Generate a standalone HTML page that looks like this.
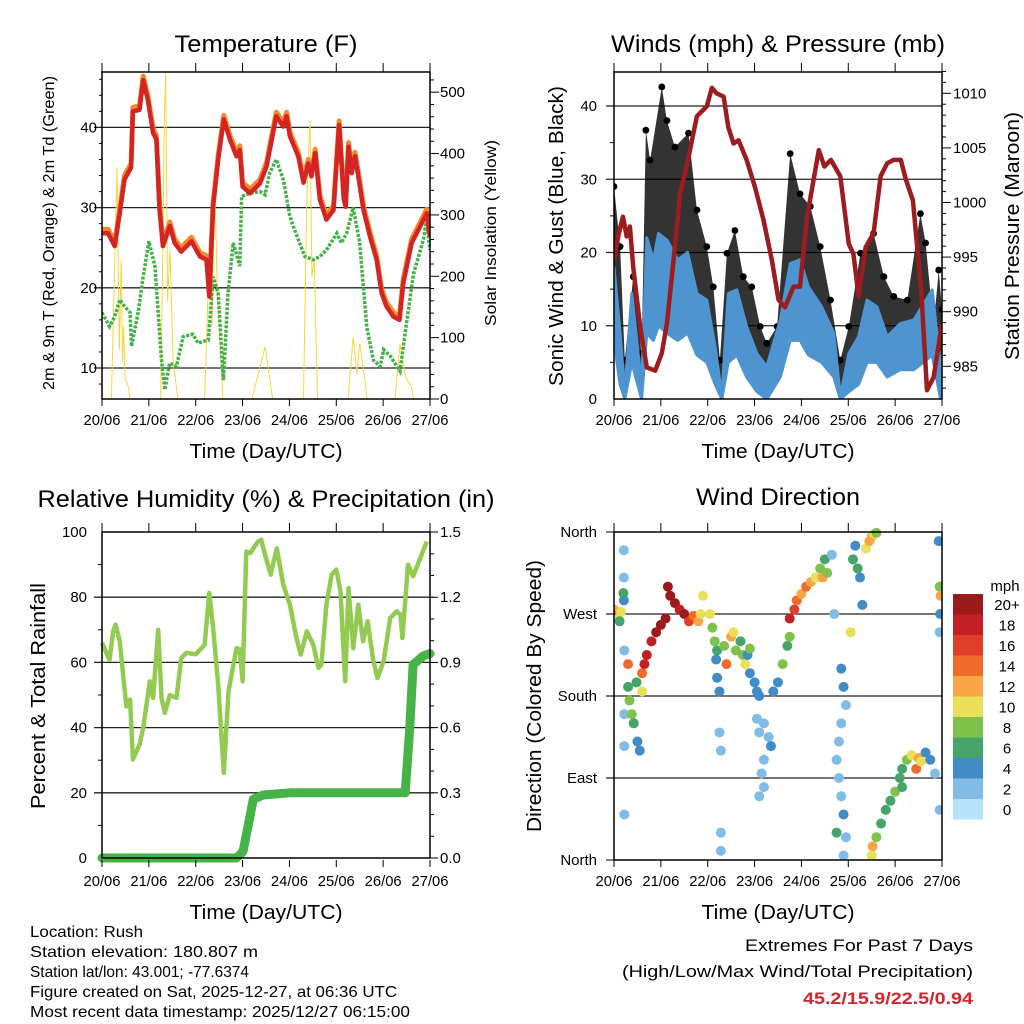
<!DOCTYPE html>
<html><head><meta charset="utf-8"><style>
html,body{margin:0;padding:0;background:#fff;}
svg{display:block;font-family:"Liberation Sans",sans-serif;}
</style></head><body>
<svg id="s" width="1024" height="1024" viewBox="0 0 1024 1024" xmlns="http://www.w3.org/2000/svg"></svg>
<script>
// ---------- DATA ----------
const dayLabels=["20/06","21/06","22/06","23/06","24/06","25/06","26/06","27/06"];
// Temperature (day, F)
const tempT=[0,0.13,0.27,0.37,0.48,0.62,0.66,0.8,0.88,0.98,1.09,1.16,1.23,1.3,1.45,1.55,1.69,1.91,2.09,2.23,2.29,2.37,2.48,2.6,2.73,2.87,2.94,3.0,3.16,3.37,3.51,3.72,3.87,3.94,4.01,4.19,4.3,4.4,4.47,4.55,4.65,4.79,4.94,5.06,5.16,5.2,5.26,5.33,5.4,5.47,5.58,5.72,5.86,5.97,6.07,6.22,6.35,6.43,6.61,6.75,6.93,7.0];
const tempRed=[26.8,26.8,25.2,28.9,33.5,35,42,42.2,45.9,43.4,39.3,38.5,29.7,25.2,27.7,25.6,24.5,25.8,23.9,23.5,18.9,30.1,36,41,38.5,36.4,37.2,32.6,31.8,33,35.1,41.4,40.1,41.4,38.9,36.4,33.1,35.5,33.9,36.8,31,28.5,29.7,40.3,31,30.1,37.6,34.3,36.4,33.9,29.7,26.4,23.5,19.3,17.7,16.4,16,20.6,25.6,27.2,29.3,26.4];
const dewT=[0,0.16,0.27,0.38,0.48,0.6,0.63,0.77,0.88,1.0,1.13,1.2,1.27,1.34,1.44,1.59,1.73,1.94,2.05,2.27,2.37,2.48,2.59,2.69,2.8,2.94,2.98,3.16,3.37,3.48,3.58,3.72,3.87,4.01,4.08,4.19,4.33,4.51,4.65,4.79,5.01,5.11,5.22,5.36,5.5,5.65,5.79,5.94,6.01,6.15,6.36,6.47,6.65,6.86,6.93,7.0];
const dewVal=[16.9,15.2,16.4,18.5,17.7,16.9,12.7,16.9,21.4,25.8,22.7,16.9,11,7.3,10.6,10.2,13.9,14.2,13.1,13.5,21.4,19.3,8.5,19.3,25.6,22.7,31.4,31.8,32,31.6,34.3,36,33.5,28.9,27.7,26,23.9,23.5,23.9,24.7,26.8,25.6,26.8,30,25.6,15.2,11,10.2,12.3,11.5,9.6,14.4,21.8,26,28.5,24.7];
// Solar insolation (day, W/m2)
const solarT=[0.2,0.32,0.37,0.41,0.44,0.46,0.49,0.56,0.6,0.98,1.25,1.3,1.33,1.36,1.4,1.45,1.52,1.62,2.19,2.31,2.35,2.4,2.46,2.58,3.0,3.2,3.48,3.57,3.64,4.3,4.37,4.44,4.48,4.53,4.6,5.25,5.36,5.44,5.5,5.56,5.66,6.25,6.36,6.48,6.6,6.65];
const solarVal=[0,378,80,226,60,118,36,20,0,0,0,248,454,530,160,242,60,0,0,280,120,373,172,0,0,0,85,40,0,0,324,454,200,226,0,0,101,40,90,60,0,0,90,36,20,0];
// Winds (day, mph)
const windT=[0,0.13,0.23,0.38,0.59,0.7,0.84,0.95,1.13,1.36,1.57,1.77,1.98,2.16,2.3,2.44,2.62,2.83,3.05,3.26,3.55,3.76,3.97,4.15,4.43,4.69,4.83,5.01,5.22,5.4,5.61,5.83,6.11,6.4,6.79,6.97,7.0];
const windSus=[18,9,0.8,14.4,1.7,22,19,22.6,21.7,19,20,14.4,13.5,7.1,0.3,14.4,14.9,9.9,6.2,4.4,10.8,18.5,19,15.3,12.6,9,0.3,6.2,8.5,13.5,12.6,8.5,10.3,10.8,14.9,4.4,5.3];
const windLow=[8,2,0,5,0,9,8,10,9,8,9,6,5,2,0,5,6,3,1,0,3,8,8,6,5,3,0,1,2,5,5,3,4,4,6,0,1];
const gustT=[0,0.13,0.23,0.41,0.59,0.68,0.77,1.02,1.13,1.3,1.59,1.77,1.98,2.12,2.26,2.41,2.58,2.76,2.94,3.12,3.26,3.48,3.76,3.97,4.19,4.4,4.62,4.83,5.01,5.26,5.54,5.76,5.97,6.26,6.54,6.65,6.82,6.93,7.0];
const gustVal=[29,20.8,5.3,16.7,6.2,36.7,32.6,42.6,38,34.4,36.3,25.8,20.8,15.3,5.3,19.9,23,16.7,15.3,9.9,7.6,9.9,33.5,28,26.3,20.8,13.5,5.3,9.9,19.9,22.6,16.7,14,13.5,25.3,21.3,9.9,17.6,12.2];
// Pressure (day, mb)
const presT=[0,0.09,0.19,0.27,0.34,0.41,0.56,0.7,0.88,1.02,1.13,1.27,1.41,1.55,1.77,1.98,2.09,2.19,2.34,2.44,2.55,2.66,2.83,3.01,3.19,3.37,3.51,3.65,3.83,3.97,4.12,4.37,4.49,4.63,4.83,5.01,5.11,5.22,5.37,5.54,5.69,5.83,5.97,6.12,6.23,6.38,6.56,6.68,6.82,7.0];
const presVal=[994.7,996.9,998.7,996.9,997.8,994.1,988.6,984.9,984.6,986.2,988.9,994.7,1000.8,1003.3,1007.9,1008.8,1010.5,1010,1009.7,1006.9,1005.4,1005.7,1003.9,1001.4,998.4,994.7,991.1,990.4,992.3,992.3,998.7,1004.8,1003.3,1003.9,1002.4,996.2,995.3,991.4,995.9,997.2,1002.4,1003.6,1003.9,1003.9,1002.1,1000.2,991.7,982.8,984,988.9];
// Relative humidity (day, %)
const rhT=[0,0.16,0.24,0.29,0.38,0.45,0.52,0.6,0.66,0.8,0.88,1.02,1.09,1.2,1.27,1.34,1.45,1.59,1.69,1.8,2.0,2.19,2.29,2.37,2.48,2.6,2.7,2.87,2.94,3.0,3.08,3.16,3.33,3.4,3.48,3.6,3.73,3.87,4.01,4.15,4.24,4.37,4.51,4.62,4.68,4.79,4.9,5.0,5.09,5.19,5.26,5.36,5.47,5.57,5.67,5.78,5.88,6.01,6.15,6.29,6.37,6.41,6.53,6.64,6.82,6.93];
const rhVal=[66,60.8,69.5,71.6,66.5,56.2,46.5,48.6,30.2,34.8,39.9,54.2,49.1,70,49.1,44.5,50,49.1,61.3,62.9,62.5,65.4,81.3,70.6,53.2,26.1,51.1,64.4,64,54.2,94,93.5,97.1,97.6,93,86.9,95,83.8,77.7,67.5,62.4,69.5,65.4,58.3,59.3,77.7,86.9,88.5,81.8,54.2,82.8,64.4,77.7,66.5,72.6,61.3,55.2,60.3,73.6,75.7,74.6,67.5,90,86.4,93,97.1];
// Precipitation (day, in)
const prT=[0,2.87,3.01,3.12,3.23,3.44,4.01,6.47,6.57,6.64,6.86,7.0];
const prVal=[0,0,0.03,0.15,0.27,0.29,0.3,0.3,0.61,0.89,0.93,0.94];
// Wind direction points: day, direction (deg), speed (mph)
const dirT=[0,0.05,0.1,0.15,0.12,0.21,0.21,0.21,0.22,0.22,0.22,0.22,0.2,0.3,0.3,0.33,0.38,0.42,0.5,0.55,0.48,0.6,0.65,0.7,0.6,0.8,0.9,1.0,1.1,1.15,1.2,1.3,1.4,1.5,1.6,1.7,1.8,1.85,1.9,2.05,2.1,2.15,2.2,2.18,2.2,2.25,2.25,2.28,2.28,2.28,2.35,2.4,2.5,2.55,2.6,2.7,2.75,2.8,2.85,2.9,3.0,3.05,2.9,3.1,3.05,3.1,3.2,3.3,3.35,3.2,3.15,3.2,3.1,3.4,3.5,3.6,3.7,3.75,3.75,3.85,3.9,4.0,4.1,4.2,4.3,4.4,4.5,4.45,4.55,4.65,4.7,4.85,4.9,4.95,4.85,4.8,4.75,4.8,4.85,4.9,4.95,4.9,4.75,5.1,5.2,5.25,5.3,5.05,5.15,5.38,5.45,5.5,5.55,5.6,5.5,5.52,5.6,5.7,5.8,5.9,6.0,6.1,6.15,6.15,6.25,6.35,6.45,6.5,6.55,6.65,6.75,6.85,6.93,6.95,6.97,6.96,6.95,6.95];
const dirVal=[275,268,265,272,262,340,310,285,230,160,125,50,293,215,190,175,160,150,130,120,195,205,215,225,185,240,250,258,265,300,290,282,275,270,262,268,262,270,290,270,255,240,230,220,200,185,140,120,30,10,235,215,245,250,230,240,225,215,225,205,195,185,232,180,155,140,150,135,125,110,95,80,70,185,195,215,235,245,265,275,285,292,300,305,310,320,330,310,315,335,270,210,190,170,150,130,110,90,70,50,25,5,30,330,320,310,280,250,345,342,350,355,358,359,5,15,25,40,55,65,75,90,80,100,110,115,100,112,108,118,110,95,350,300,290,270,250,55];
const dirSpd=[12,14,10,10,6,2,2,4,2,2,2,2,6,14,6,8,8,6,4,4,6,14,18,18,10,18,20,20,20,20,20,20,18,20,16,14,12,10,10,10,8,8,6,4,4,4,2,2,2,2,8,14,12,10,8,6,8,10,4,4,4,4,8,4,2,2,2,2,4,2,2,2,2,4,4,8,6,8,18,16,14,12,14,12,10,8,6,12,8,2,2,4,4,2,2,2,2,2,2,4,2,2,6,6,6,4,4,10,4,10,12,12,10,8,10,12,8,6,6,6,8,6,6,6,8,10,14,12,10,4,4,2,4,8,12,4,2,2];
const cbLabels=["20+","18","16","14","12","10","8","6","4","2","0"];
const cbColors=["#9b1a1c","#c32026","#e03e2b","#f06a2b","#f7a545","#e9df58","#7ec24b","#46a46a","#418bc6","#80bce5","#b7e3f8"];
const tempTicks=[10,20,30,40],solarTicks=[0,100,200,300,400,500];
const windTicks=[0,10,20,30,40],presTicks=[985,990,995,1000,1005,1010];
const rhTicks=[0,20,40,60,80,100],prTicks=["0.0","0.3","0.6","0.9","1.2","1.5"];
const dirLabels=["North","East","South","West","North"];

// ---------- HELPERS ----------
const NS="http://www.w3.org/2000/svg";
const svg=document.getElementById("s");
function mk(tag,attrs,parent){const e=document.createElementNS(NS,tag);for(const k in attrs)e.setAttribute(k,attrs[k]);(parent||svg).appendChild(e);return e;}
function txt(x,y,s,size,anchor,extra,parent){const e=mk("text",Object.assign({x:x,y:y,"font-size":size,"text-anchor":anchor||"middle",fill:"#000"},extra||{}),parent);e.textContent=s;return e;}
function poly(ts,vs,sx,sy){return ts.map((t,i)=>sx(t).toFixed(1)+","+sy(vs[i]).toFixed(1)).join(" ");}

function frame(L,R,T,B,name){
  const g=mk("g",{});
  
  
  const dw=(R-L)/7;
  for(let d=0;d<=7;d++){
    const x=L+d*dw;
    const tk=mk("line",{x1:x,x2:x,y1:T-9,y2:T,stroke:"#000","stroke-width":1},g);
    
    
    const tb=mk("line",{x1:x,x2:x,y1:B,y2:B+7,stroke:"#000","stroke-width":1},g);
    
    
    const lb=txt(x,B+26,dayLabels[d],15,"middle",{textLength:37,lengthAdjust:"spacingAndGlyphs"},g);
    
    
  }
  const xt=txt((L+R)/2,B+59,"Time (Day/UTC)",20,"middle",{textLength:153,lengthAdjust:"spacingAndGlyphs"},g);
  
  
  return g;
}
function boxRect(L,R,T,B,name){
  const r=mk("rect",{x:L,y:T,width:R-L,height:B-T,fill:"none",stroke:"#000","stroke-width":1.5});
  
  
}
function grid(L,R,y){
  const l=mk("line",{x1:L-8,x2:R,y1:y,y2:y,stroke:"#222","stroke-width":1.3});
  
  
}
function rightTick(R,y,len){
  const l=mk("line",{x1:R,x2:R+len,y1:y,y2:y,stroke:"#000","stroke-width":1});
  
  
}
function leftTick(L,y,len){
  const l=mk("line",{x1:L-len,x2:L,y1:y,y2:y,stroke:"#000","stroke-width":1});
  
  
}
function title(x,y,s,w){
  const t=txt(x,y,s,24,"middle",{textLength:w,lengthAdjust:"spacingAndGlyphs"});
  
  
}
function vtitle(x,y,s,size,w){
  const t=txt(0,0,s,size,"middle",{transform:"translate("+x+","+y+") rotate(-90)",textLength:w,lengthAdjust:"spacingAndGlyphs"});
  
  
}

// ---------- PANEL 1: TEMPERATURE ----------
(function(){
  const L=102,R=430,T=72,B=399;
  const sx=t=>L+t*(R-L)/7, sy=v=>368-(v-10)*8.02, syS=v=>399-v*0.6136;
  const clip=mk("clipPath",{id:"c1"});mk("rect",{x:L,y:T,width:R-L,height:B-T},clip);
  title(266,52,"Temperature (F)",183);
  tempTicks.forEach(v=>{grid(L,R,sy(v));const l=txt(97,sy(v)+5,String(v),15,"end");
    
    });
  for(let v=8;v<=46;v+=2){if(v%10)leftTick(L,sy(v),3);}
  solarTicks.forEach(v=>{rightTick(R,syS(v),9);const l=txt(440,syS(v)+5,String(v),15,"start");
    
    });
  for(let v=20;v<=520;v+=20){if(v%100)rightTick(R,syS(v),4);}
  const g=mk("g",{"clip-path":"url(#c1)"});
  const sol=mk("polyline",{points:poly(solarT,solarVal,sx,syS),fill:"none",stroke:"#fbd43a","stroke-width":1},g);
  
  
  const dew=mk("polyline",{points:poly(dewT,dewVal,sx,sy),fill:"none",stroke:"#44b047","stroke-width":3.5,"stroke-dasharray":"3 1.5"},g);
  
  
  const org=mk("polyline",{points:poly(tempT,tempRed.map(v=>v+0.5),sx,sy),fill:"none",stroke:"#f08a2c","stroke-width":5,"stroke-linejoin":"round"},g);
  
  
  const red=mk("polyline",{points:poly(tempT,tempRed,sx,sy),fill:"none",stroke:"#d42424","stroke-width":4.5,"stroke-linejoin":"round"},g);
  
  
  boxRect(L,R,T,B,"temperature");
  frame(L,R,T,B,"temperature");
  vtitle(54,233,"2m & 9m T (Red, Orange) & 2m Td (Green)",16,314);
  vtitle(496,233,"Solar Insolation (Yellow)",16,186);
})();

// ---------- PANEL 2: WINDS ----------
(function(){
  const L=614,R=942,T=72,B=399;
  const sx=t=>L+t*(R-L)/7, sy=v=>399-v*7.325, syP=v=>93.3+(1010-v)*10.92;
  const clip=mk("clipPath",{id:"c2"});mk("rect",{x:L,y:T,width:R-L,height:B-T},clip);
  title(778,52,"Winds (mph) & Pressure (mb)",334);
  windTicks.forEach(v=>{if(v>0)grid(L,R,sy(v));const l=txt(597,sy(v)+5,String(v),15,"end");
    
    });
  for(let v=5;v<45;v+=10)leftTick(L,sy(v),4);
  presTicks.forEach(v=>{rightTick(R,syP(v),9);const l=txt(953,syP(v)+5,String(v),15,"start");
    
    });
  for(let v=983;v<=1012;v++){if(v%5)rightTick(R,syP(v),4);}
  const g=mk("g",{"clip-path":"url(#c2)"});
  const gustBand=poly(gustT,gustVal,sx,sy)+" "+poly(windT.slice().reverse(),windSus.slice().reverse(),sx,sy);
  const gb=mk("polygon",{points:gustBand,fill:"#000",opacity:0.8},g);
  
  
  gustT.forEach((t,i)=>{const c=mk("circle",{cx:sx(t),cy:sy(gustVal[i]),r:3.4,fill:"#000"},g);
    
    });
  const sb=poly(windT,windSus,sx,sy)+" "+poly(windT.slice().reverse(),windLow.slice().reverse(),sx,sy);
  const sus=mk("polygon",{points:sb,fill:"#4d94d0",stroke:"#4d94d0","stroke-width":3,"stroke-linejoin":"round"},g);
  
  
  const pr=mk("polyline",{points:poly(presT,presVal,sx,syP),fill:"none",stroke:"#9c1c1f","stroke-width":4.5,"stroke-linejoin":"round"},g);
  
  
  boxRect(L,R,T,B,"winds");
  frame(L,R,T,B,"winds");
  vtitle(563,236,"Sonic Wind & Gust (Blue, Black)",20,300);
  vtitle(1019,236,"Station Pressure (Maroon)",20,248);
})();

// ---------- PANEL 3: RH & PRECIP ----------
(function(){
  const L=102,R=430,T=532,B=858;
  const sx=t=>L+t*(R-L)/7, sy=v=>858-v*3.26, syP=v=>858-v*217.3;
  title(266,507,"Relative Humidity (%) & Precipitation (in)",457);
  rhTicks.forEach(v=>{if(v>0&&v<100)grid(L,R,sy(v));const l=txt(87,sy(v)+5,String(v),15,"end");
    
    });
  for(let v=10;v<100;v+=20)leftTick(L,sy(v),4);
  prTicks.forEach(s=>{const v=parseFloat(s);rightTick(R,syP(v),8);const l=txt(440,syP(v)+5,s,15,"start");
    
    });
  for(let v=0.1;v<1.5;v+=0.1){rightTick(R,syP(v),4);}
  const rh=mk("polyline",{points:poly(rhT,rhVal,sx,sy),fill:"none",stroke:"#93cb52","stroke-width":4.5,"stroke-linejoin":"round"});
  
  
  const pp=mk("polyline",{points:poly(prT,prVal,sx,syP),fill:"none",stroke:"#45b347","stroke-width":9,"stroke-linejoin":"round","stroke-linecap":"round"});
  
  
  boxRect(L,R,T,B,"humidity");
  frame(L,R,T,B+2,"humidity");
  vtitle(45,696,"Percent & Total Rainfall",20,226);
})();

// ---------- PANEL 4: WIND DIRECTION ----------
(function(){
  const L=614,R=942,T=532,B=860;
  const sx=t=>L+t*(R-L)/7, sy=d=>860-d*(B-T)/360;
  const clip=mk("clipPath",{id:"c4"});mk("rect",{x:L,y:T-4,width:R-L,height:B-T+8},clip);
  title(778,505,"Wind Direction",164);
  dirLabels.forEach((s,i)=>{const y=sy(i*90);if(i>0&&i<4)grid(L,R,y);else leftTick(L,y,8);
    const l=txt(597,y+5,s,15,"end");
    
    });
  const g=mk("g",{"clip-path":"url(#c4)"});
  
  
  dirT.forEach((t,i)=>{
    const bin=Math.min(10,Math.floor(dirSpd[i]/2));
    const c=mk("circle",{cx:sx(t),cy:sy(dirVal[i]),r:5,fill:cbColors[10-bin]},g);
    
    
  });
  boxRect(L,R,T,B,"direction");
  frame(L,R,T,B,"direction");
  vtitle(541,696,"Direction (Colored By Speed)",20,272);
  const m=txt(1005,591,"mph",15,"middle");
  
  
  cbLabels.forEach((s,i)=>{
    const y=594+i*20.5;
    const r=mk("rect",{x:953,y:y,width:30,height:20.6,fill:cbColors[i]});
    
    
    const l=txt(1007,y+16,s,15,"middle");
    
    
  });
})();

// ---------- FOOTER ----------
const footL=[["Location: Rush",113],["Station elevation: 180.807 m",228],["Station lat/lon: 43.001; -77.6374",219],["Figure created on Sat, 2025-12-27, at 06:36 UTC",367],["Most recent data timestamp: 2025/12/27 06:15:00",380]];
footL.forEach((f,i)=>{const t=txt(30,937+i*20,f[0],16,"start",{textLength:f[1],lengthAdjust:"spacingAndGlyphs"});
  
  });
const e1=txt(973,951,"Extremes For Past 7 Days",17,"end",{textLength:228,lengthAdjust:"spacingAndGlyphs"});


const e2=txt(973,977,"(High/Low/Max Wind/Total Precipitation)",17,"end",{textLength:351,lengthAdjust:"spacingAndGlyphs"});


const e3=txt(973,1004,"45.2/15.9/22.5/0.94",17,"end",{fill:"#d1262c","font-weight":"bold",textLength:170,lengthAdjust:"spacingAndGlyphs"});


</script>
</body></html>
